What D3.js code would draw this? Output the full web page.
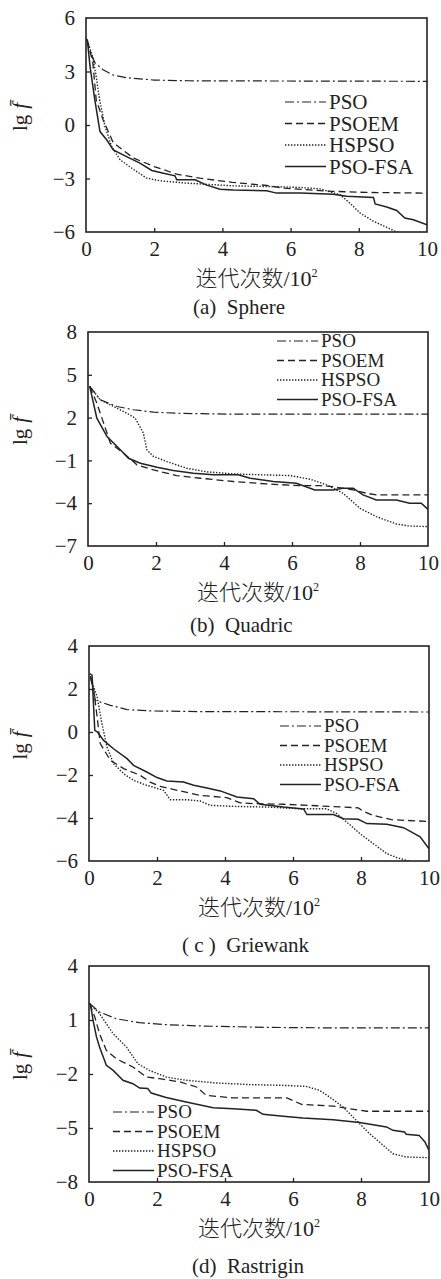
<!DOCTYPE html>
<html>
<head>
<meta charset="utf-8">
<script src="https://cdn.jsdelivr.net/npm/d3@7"></script>
<style>
  body { margin: 0; background: #fff; }
  svg { display: block; }
  text { font-family: "Liberation Serif", "Times New Roman", serif; fill: #222; }
</style>
</head>
<body>
<div id="chart"></div>
<script>
// 横轴刻度 (迭代次数/10^2) 与图例
const xTicks = [0, 2, 4, 6, 8, 10];
const seriesNames = ["PSO", "PSOEM", "HSPSO", "PSO-FSA"];
const captions = ["(a)  Sphere", "(b)  Quadric", "( c )  Griewank", "(d)  Rastrigin"];

// (a) Sphere
const sphereTicks = [-6, -3, 0, 3, 6];
const spherePSO = [[0.02,4.8],[0.1,4.2],[0.26,3.5],[0.5,3.1],[0.8,2.8],[1.2,2.65],[2,2.52],[3,2.48],[5,2.47],[10,2.45]];
const spherePSOEM = [[0.04,4.75],[0.2,3.5],[0.3,1.4],[0.5,0.3],[0.8,-1.0],[1.4,-1.86],[2,-2.33],[2.66,-2.76],[3.34,-2.98],[4.3,-3.22],[5.3,-3.39],[5.8,-3.54],[6.76,-3.67],[7.25,-3.72],[8.2,-3.78],[10,-3.82]];
const sphereHSPSO = [[0.07,4.56],[0.2,3.8],[0.3,2.7],[0.4,1.4],[0.56,-0.1],[0.75,-1.2],[1.0,-1.95],[1.4,-2.5],[1.78,-2.98],[2.17,-3.13],[2.95,-3.26],[3.73,-3.35],[4.3,-3.41],[5.3,-3.45],[6.28,-3.5],[6.86,-3.58],[7.45,-3.91],[7.74,-4.38],[8.04,-4.94],[8.43,-5.4],[8.82,-5.74],[9.11,-6.0],[9.5,-6.2],[10,-6.4]];
const spherePSOFSA = [[0.0,4.85],[0.04,4.75],[0.12,3.26],[0.26,1.4],[0.41,-0.37],[0.61,-0.84],[0.8,-1.4],[1.19,-1.77],[1.58,-2.14],[1.93,-2.55],[2.27,-2.7],[2.61,-2.85],[2.66,-3.07],[3.2,-3.07],[3.54,-3.37],[3.93,-3.6],[4.32,-3.65],[5.3,-3.69],[5.59,-3.82],[6.28,-3.82],[7.25,-3.88],[7.64,-4.0],[8.43,-4.06],[8.48,-4.43],[8.82,-4.6],[9.11,-4.79],[9.35,-5.22],[9.6,-5.31],[10,-5.59]];

// (b) Quadric
const quadricTicks = [-7, -4, -1, 2, 5, 8];
const quadricPSO = [[0.05,4.19],[0.36,3.25],[0.85,2.78],[1.34,2.55],[1.93,2.38],[2.8,2.29],[4.28,2.24],[10,2.24]];
const quadricPSOEM = [[0.05,4.19],[0.26,3.02],[0.46,1.61],[0.66,0.2],[1.05,-0.5],[1.44,-1.31],[1.93,-1.67],[2.6,-2.06],[3.3,-2.25],[4.28,-2.48],[5.25,-2.65],[6.23,-2.77],[6.82,-2.77],[7.2,-2.84],[7.8,-3.07],[8.19,-3.3],[8.48,-3.42],[10,-3.42]];
const quadricHSPSO = [[0.05,4.19],[0.36,3.25],[0.75,2.78],[1.14,2.31],[1.39,1.96],[1.63,0.9],[1.73,-0.26],[1.93,-0.73],[2.32,-1.08],[2.9,-1.55],[3.49,-1.8],[4.28,-1.95],[5.25,-2.02],[5.94,-2.06],[6.53,-2.32],[7.02,-2.72],[7.5,-3.3],[8.0,-4.36],[8.48,-4.94],[9.07,-5.46],[9.46,-5.6],[10,-5.64]];
const quadricPSOFSA = [[0.05,4.19],[0.26,1.96],[0.56,0.67],[0.95,-0.26],[1.19,-0.85],[1.54,-1.2],[2.03,-1.48],[2.51,-1.71],[3.1,-1.9],[3.69,-2.0],[4.42,-2.0],[4.77,-2.25],[5.45,-2.48],[6.13,-2.6],[6.67,-3.07],[7.2,-3.07],[7.5,-2.95],[7.8,-2.95],[8.09,-3.42],[8.48,-3.77],[9.07,-3.77],[9.46,-4.0],[9.8,-4.0],[10,-4.43]];

// (c) Griewank
const griewankTicks = [-6, -4, -2, 0, 2, 4];
const griewankPSO = [[0.04,2.6],[0.19,1.47],[0.63,1.24],[1.12,1.04],[1.8,0.98],[3.27,0.95],[10,0.93]];
const griewankPSOEM = [[0.04,2.56],[0.14,1.94],[0.24,0.7],[0.33,-0.54],[0.63,-1.32],[1.02,-1.7],[1.51,-2.02],[1.8,-2.33],[2.1,-2.53],[2.59,-2.71],[3.27,-2.95],[4.05,-3.05],[4.45,-3.3],[4.84,-3.33],[5.72,-3.36],[6.7,-3.43],[7.48,-3.49],[7.92,-3.53],[8.07,-3.69],[8.36,-3.88],[8.9,-4.08],[10,-4.16]];
const griewankHSPSO = [[0.04,2.56],[0.24,1.63],[0.38,0.39],[0.53,-0.7],[0.72,-1.47],[1.02,-1.94],[1.31,-2.25],[1.7,-2.48],[2.19,-2.71],[2.39,-3.15],[2.88,-3.15],[3.27,-3.21],[3.56,-3.41],[4.25,-3.46],[5.23,-3.49],[6.21,-3.57],[6.99,-3.57],[7.29,-3.8],[7.58,-4.19],[7.97,-4.73],[8.36,-5.19],[8.76,-5.66],[9.05,-5.84],[9.4,-6.0],[10,-6.2]];
const griewankPSOFSA = [[0.02,2.71],[0.09,2.64],[0.17,0.08],[0.25,0.0],[0.43,-0.39],[0.72,-0.78],[1.12,-1.24],[1.31,-1.55],[1.7,-1.86],[2.0,-2.12],[2.29,-2.28],[2.78,-2.33],[3.08,-2.48],[3.47,-2.6],[3.86,-2.74],[4.35,-3.02],[4.84,-3.1],[5.03,-3.36],[5.72,-3.49],[6.31,-3.58],[6.41,-3.84],[7.19,-3.84],[7.48,-4.03],[7.92,-4.06],[8.17,-4.26],[8.76,-4.29],[9.25,-4.45],[9.74,-4.88],[10,-5.43]];

// (d) Rastrigin
const rastriginTicks = [-8, -5, -2, 1, 4];
const rastriginPSO = [[0.02,1.91],[0.31,1.44],[0.8,1.07],[1.49,0.85],[2.27,0.74],[3.25,0.67],[5.22,0.59],[7.18,0.56],[10,0.56]];
const rastriginPSOEM = [[0.02,1.91],[0.17,1.17],[0.31,0.24],[0.51,-0.69],[0.8,-1.15],[1.29,-1.61],[1.69,-2.17],[2.08,-2.26],[2.67,-2.44],[3.16,-2.72],[3.45,-3.19],[4.24,-3.33],[5.22,-3.33],[5.82,-3.33],[6.25,-3.69],[7.18,-3.78],[7.67,-3.93],[8.16,-4.07],[10,-4.07]];
const rastriginHSPSO = [[0.02,1.91],[0.31,1.35],[0.71,0.24],[1.1,-0.5],[1.44,-1.43],[1.78,-1.8],[2.27,-2.17],[2.86,-2.35],[3.75,-2.5],[4.73,-2.59],[5.71,-2.63],[6.39,-2.69],[6.78,-2.91],[7.08,-3.28],[7.47,-3.83],[7.86,-4.57],[8.25,-5.31],[8.65,-5.96],[8.94,-6.43],[9.33,-6.61],[10,-6.65]];
const rastriginPSOFSA = [[0.04,1.91],[0.12,0.98],[0.22,0.06],[0.31,-0.5],[0.51,-1.52],[0.71,-1.8],[1.0,-2.35],[1.29,-2.54],[1.49,-2.78],[1.73,-2.81],[1.83,-3.06],[2.27,-3.31],[2.86,-3.56],[3.65,-3.87],[4.24,-3.93],[4.92,-4.02],[5.12,-4.24],[5.71,-4.35],[6.29,-4.44],[7.18,-4.54],[7.96,-4.7],[8.75,-4.94],[8.94,-5.13],[9.28,-5.22],[9.33,-5.35],[9.71,-5.41],[9.88,-5.78],[10,-6.24]];

const panels = [
  {ticks: sphereTicks, series: [spherePSO, spherePSOEM, sphereHSPSO, spherePSOFSA]},
  {ticks: quadricTicks, series: [quadricPSO, quadricPSOEM, quadricHSPSO, quadricPSOFSA]},
  {ticks: griewankTicks, series: [griewankPSO, griewankPSOEM, griewankHSPSO, griewankPSOFSA]},
  {ticks: rastriginTicks, series: [rastriginPSO, rastriginPSOEM, rastriginHSPSO, rastriginPSOFSA]}
];

// 版面位置
const layout = [
  {top: 18, bottom: 232, left: 86, right: 427, legX: 285, legY: 102, legStep: 21.5, legFont: 21, capX: 193, capY: 314},
  {top: 332, bottom: 546, left: 88, right: 428, legX: 277, legY: 341, legStep: 19.5, legFont: 19, capX: 190, capY: 632},
  {top: 646, bottom: 861, left: 89, right: 429, legX: 280, legY: 726, legStep: 19.5, legFont: 19, capX: 182, capY: 952},
  {top: 966, bottom: 1182, left: 89, right: 429, legX: 113, legY: 1112, legStep: 19.5, legFont: 19, capX: 192, capY: 1273}
];

// 线型
const dashes = ["9,3,2,3", "7,4", "1.4,1.6", null];
const widths = [1.2, 1.3, 1.4, 1.5];
const ink = "#222";

const svg = d3.select("#chart").append("svg")
  .attr("width", 441)
  .attr("height", 1279);

panels.forEach((p, i) => {
  const L = layout[i];
  const x = d3.scaleLinear().domain([0, 10]).range([L.left, L.right]);
  const y = d3.scaleLinear().domain(d3.extent(p.ticks)).range([L.bottom, L.top]);

  const clipId = "clip" + i;
  svg.append("clipPath").attr("id", clipId)
    .append("rect")
    .attr("x", L.left).attr("y", L.top)
    .attr("width", L.right - L.left).attr("height", L.bottom - L.top);

  const line = d3.line().x(d => x(d[0])).y(d => y(d[1]));

  p.series.forEach((s, k) => {
    svg.append("path")
      .datum(s)
      .attr("clip-path", `url(#${clipId})`)
      .attr("fill", "none")
      .attr("stroke", ink)
      .attr("stroke-width", widths[k])
      .attr("stroke-dasharray", dashes[k])
      .attr("d", line);
  });

  // 坐标轴（刻度朝内）
  const gy = svg.append("g")
    .attr("transform", `translate(${L.left},0)`)
    .call(d3.axisLeft(y).tickValues(p.ticks).tickSizeInner(-4).tickSizeOuter(0).tickPadding(11));
  const gx = svg.append("g")
    .attr("transform", `translate(0,${L.bottom})`)
    .call(d3.axisBottom(x).tickValues(xTicks).tickSizeInner(-4).tickSizeOuter(0).tickPadding(9));
  [gy, gx].forEach(g => {
    g.select(".domain").remove();
    g.selectAll(".tick line").attr("stroke", ink).attr("stroke-width", 1.3);
    g.selectAll(".tick text")
      .style("font-family", "Liberation Serif")
      .style("font-size", "21px")
      .attr("fill", ink);
  });
  gy.selectAll(".tick line").filter(d => d === p.ticks[0] || d === p.ticks[p.ticks.length - 1]).remove();
  gx.selectAll(".tick line").filter(d => d === 0 || d === 10).remove();

  svg.append("rect")
    .attr("x", L.left).attr("y", L.top)
    .attr("width", L.right - L.left).attr("height", L.bottom - L.top)
    .attr("fill", "none")
    .attr("stroke", ink)
    .attr("stroke-width", 1.6);

  // 纵轴标题 lg f̄
  const cy = (L.top + L.bottom) / 2 - 8;
  const yl = svg.append("text")
    .attr("transform", `translate(27,${cy}) rotate(-90)`)
    .attr("text-anchor", "middle")
    .style("font-size", "21px");
  yl.append("tspan").text("lg");
  yl.append("tspan").attr("dx", 6).style("font-style", "italic").text("f\u0304");

  // 横轴标题
  const xt = svg.append("text")
    .attr("x", (L.left + L.right) / 2)
    .attr("y", L.bottom + 54)
    .attr("text-anchor", "middle")
    .style("font-size", "22px");
  xt.append("tspan").style("font-family", "'Noto Sans CJK SC'").style("font-weight", 300).text("迭代次数");
  xt.append("tspan").text("/10");
  xt.append("tspan").attr("dy", -9).style("font-size", "12px").text("2");

  // 子图标题
  svg.append("text")
    .attr("x", L.capX)
    .attr("y", L.capY)
    .style("font-size", "21px")
    .style("white-space", "pre")
    .text(captions[i]);

  // 图例
  seriesNames.forEach((name, k) => {
    const ly = L.legY + k * L.legStep;
    svg.append("line")
      .attr("x1", L.legX).attr("x2", L.legX + 41)
      .attr("y1", ly).attr("y2", ly)
      .attr("stroke", ink)
      .attr("stroke-width", widths[k])
      .attr("stroke-dasharray", dashes[k]);
    svg.append("text")
      .attr("x", L.legX + 44)
      .attr("y", ly + L.legFont / 3)
      .style("font-size", L.legFont + "px")
      .text(name);
  });
});
</script>
</body>
</html>
